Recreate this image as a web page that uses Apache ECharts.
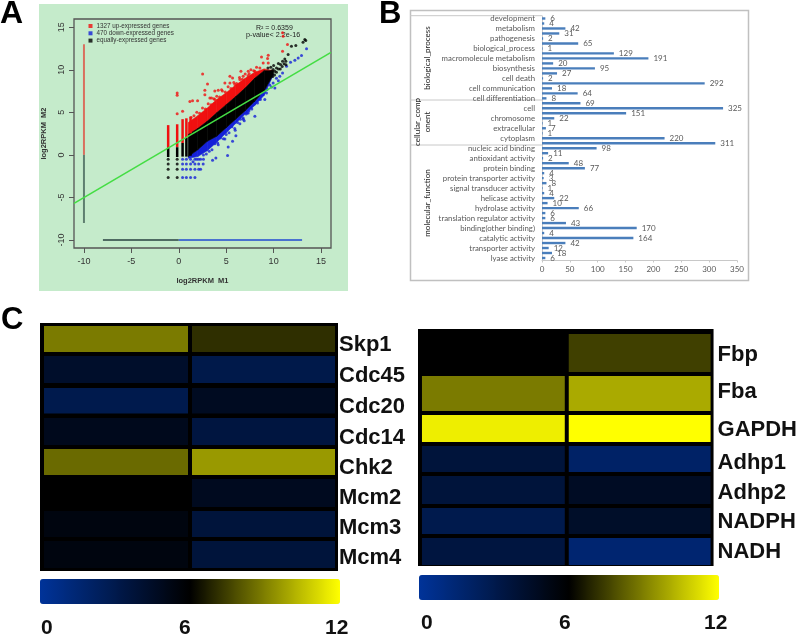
<!DOCTYPE html>
<html><head><meta charset="utf-8">
<script src="https://cdn.jsdelivr.net/npm/echarts@6/dist/echarts.min.js"></script>
<style>html,body{margin:0;padding:0;background:#fff}#c{width:800px;height:635px;filter:blur(.35px)}</style>
</head><body><div id="c"></div>
<script>
// ---------- Panel A: values ----------
const upName = '1327 up-expressed genes', downName = '470 down-expressed genes', eqName = 'equally-expressed genes';
// dense cloud, as envelopes per x: too dense to read individual genes
const cloudX    = [1, 2, 3, 4, 5, 6, 7, 8, 9, 10];
const blueLow   = [-0.4, -0.2, 0.5, 1.5, 2.6, 3.7, 4.8, 5.8, 7.0, 9.5];
const blackLow  = [-0.2, 0.6, 1.6, 2.2, 3.2, 4.2, 5.2, 6.3, 7.5, 9.5];
const blackHigh = [2.4, 3.1, 3.95, 4.95, 5.9, 6.85, 7.85, 9.0, 9.9, 9.9];
const redHigh   = [3.8, 4.6, 5.5, 6.5, 7.3, 8.2, 9.0, 9.7, 10.1, 9.9];
// discrete low-count columns
const stripeX        = [-1.12, -0.17, 0.4, 0.8, 1.24];
const stripeBlackLow = [-0.25, -0.25, -0.2, -0.2, -0.1];
const stripeRedLow   = [0.85, 0.9, 1.4, 2.0, 2.5];
const stripeRedHigh  = [3.5, 3.6, 4.2, 4.3, 4.5];
const redPoints = [[2.51,9.52],[3.03,8.34],[-0.17,7.28],[-0.17,7.0],[1.17,6.29],[1.45,6.37],[1.98,6.37],[2.75,7.59],[2.75,7.08],[0.4,5.12],[-0.17,4.84],[3.28,6.7],[3.8,6.5],
 [4.16,7.59],[4.51,7.67],[4.86,8.45],[5.39,9.24],[5.67,9.04],[5.91,8.26],[6.55,9.83],[7.32,9.83],[7.42,9.55],[6.44,8.85],[8.72,11.51],[9.43,11.71],[9.36,11.32],[8.9,10.81],[9.43,10.81],[8.55,10.22],[8.02,9.83],[10.94,12.18],[11.46,12.97],[11.0,13.95],[10.94,14.34],[5.39,8.45],[3.8,7.5],[3.45,6.69],[6.79,9.24],[7.85,9.24],
 [1.3,4.4],[1.6,4.6],[1.9,5.0],[2.2,4.9],[2.5,5.5],[2.8,5.4],[3.1,6.0],[3.4,5.9],[3.7,6.6],[4.0,6.9],[4.3,6.8],[4.6,7.5],[4.9,7.4],[5.2,8.0],[5.5,7.8],[5.8,8.5],[6.1,8.4],[6.4,9.1],[6.7,8.9],[7.0,9.5],[7.3,9.3],[7.6,10.0],[7.9,9.9],[8.2,10.3]];
const bluePoints = [[13.47,12.46],[12.94,11.67],[12.59,11.4],[12.24,11.12],[11.78,10.89],[11.36,10.42],[10.94,9.63],[10.13,7.87],[9.78,7.98],[9.07,6.5],[8.72,7.08],[8.02,4.53],[7.21,4.93],[6.79,4.34],[9.25,7.28],[9.95,8.46],[10.65,9.24],
 [5.14,-0.06],[5.67,1.59],[5.21,0.92],[3.56,-0.64],[3.91,-0.37],[6.44,3.67],[5.95,2.89],[6.02,2.26],[7.32,4.92],[6.9,4.02],[4.86,1.87],[4.16,1.2],[3.21,0.42],
 [0.4,-2.67],[0.8,-2.67],[1.24,-2.67],[1.7,-2.67],[0.4,-1.69],[0.8,-1.69],[1.24,-1.69],[1.7,-1.69],[2.1,-1.69],[2.3,-1.69],[0.4,-1.06],[0.8,-1.06],[1.24,-1.06],[1.7,-1.06],[2.1,-1.06],[2.57,-1.06],[0.4,-0.5],[0.8,-0.5],[1.24,-0.5],[1.7,-0.5],[2.1,-0.5],[2.6,-0.5],
 [1.5,-0.8],[1.9,-0.5],[2.3,-0.5],[2.6,0],[2.9,0.1],[3.5,0.6],[3.8,1.3],[4.1,1.4],[4.4,2.0],[4.7,1.9],[5.0,2.4],[5.3,2.6],[5.6,3.3],[5.9,3.1],[6.2,3.8],[6.5,4.2],[6.8,4.2],[7.1,4.8],[7.4,5.2],[7.7,5.4],[8.0,6.0],[8.3,6.1],[8.6,6.5],[9.3,7.7],[9.6,8.2],[10.3,9.0],[10.5,8.7]];
const blackPoints = [[13.29,13.55],[13.1,13.24],[13.39,13.44],[11.88,12.77],[12.34,12.85],[11.53,11.79],[11.18,11.28],[10.94,11.0],[10.73,10.61],[11.29,11.0],[10.3,10.22],[10.13,9.83],[9.78,9.83],[9.95,10.03],[10.5,10.73],
 [9.9,9.2],[10.1,9.4],[10.3,9.7],[10.5,10.1],[10.7,10.1],[10.9,10.4],[11.1,10.7],[11.3,10.6],[9.6,9.6],[9.4,10.2],[9.7,10.3],[10.0,10.5],
 [-1.12,-0.5],[-1.12,-1.06],[-1.12,-1.69],[-1.12,-2.67],[-0.17,-0.5],[-0.17,-1.06],[-0.17,-1.69],[-0.17,-2.67]];
const zeroInM1Up = [[-10,13],[-10,0]], zeroInM1Eq = [[-10,0],[-10,-8]];
const zeroInM2Eq = [[-8,-10],[0,-10]], zeroInM2Down = [[0,-10],[13,-10]];
const fitLine = [[-11.05,-5.7],[16.05,12.05]];
const aTicks = [-10,-5,0,5,10,15];

// ---------- Panel B ----------
const goCategories = ['development','','metabolism','','pathogenesis','','biological_process','','macromolecule metabolism','','biosynthesis','','cell death','','cell communication','','cell differentiation','','cell','','chromosome','','extracellular','','cytoplasm','','nucleic acid binding','','antioxidant activity','','protein binding','','protein transporter activity','','signal transducer activity','','helicase activity','','hydrolase activity','','translation regulator activity','','binding(other binding)','','catalytic activity','','transporter activity','','lyase activity'];
const goValues = [6,4,42,31,2,65,1,129,191,20,95,27,2,292,18,64,8,69,325,151,22,1,7,1,220,311,98,11,2,48,77,4,3,8,1,4,22,10,66,6,6,43,170,4,164,42,12,18,6];

// ---------- Panel C ----------
const leftGenes = ['Skp1','Cdc45','Cdc20','Cdc14','Chk2','Mcm2','Mcm3','Mcm4'];
const leftCol1  = [8.9,4.3,3.0,4.9,8.5,6.0,5.4,5.4];
const leftCol2  = [7.1,3.1,4.7,3.5,9.6,4.8,3.7,3.7];
const rightGenes = ['Fbp','Fba','GAPDH','Adhp1','Adhp2','NADPH','NADH'];
const rightCol1  = [6.0,8.9,11.6,3.7,3.7,3.0,3.5];
const rightCol2  = [7.5,10.0,12.0,2.0,4.6,4.4,1.6];

// ---------- layout (not data) ----------
const colSpans = [[4,148],[152,295]];
const leftRowSpans  = [[3,29],[33,60],[65,90.5],[95,122],[126,152],[156,184],[188,214],[218,245]];
const leftLabelY    = [22,53,84,115,145,175,205,235];
const rightRowSpans = [[5,43],[47,82],[86,113],[117,143],[147,175],[179,205],[209,236]];
const rightLabelY   = [26,63,100.5,134,164,193,223];
const heatColors = ['#003399','#000000','#ffff00'];

function heatData(c1, c2){ const d=[]; c1.forEach((v,i)=>d.push([0,i,v])); c2.forEach((v,i)=>d.push([1,i,v])); return d; }
function heatRender(rows){
  return (p,api)=>{
    const a=api.coord([colSpans[api.value(0)][0],rows[api.value(1)][0]]);
    const b=api.coord([colSpans[api.value(0)][1],rows[api.value(1)][1]]);
    return {type:'rect',shape:{x:a[0],y:a[1],width:b[0]-a[0],height:b[1]-a[1]},style:{fill:api.visual('color')}};
  };
}
function bandRender(color){
  return (p,api)=>{
    const pts=[api.coord([api.value(0),api.value(1)]),api.coord([api.value(0),api.value(2)]),api.coord([api.value(3),api.value(5)]),api.coord([api.value(3),api.value(4)])];
    return {type:'polygon',shape:{points:pts},style:{fill:color,stroke:color,lineWidth:.6}};
  };
}
function bandData(xs,lo,hi){ const d=[]; for(let i=0;i<xs.length-1;i++) d.push([xs[i],lo[i],hi[i],xs[i+1],lo[i+1],hi[i+1]]); return d; }
function stripeRender(color){
  return (p,api)=>{
    const a=api.coord([api.value(0),api.value(1)]), b=api.coord([api.value(0),api.value(2)]);
    return {type:'line',shape:{x1:a[0],y1:a[1],x2:b[0],y2:b[1]},style:{stroke:color,lineWidth:2.5}};
  };
}
const RED='#f01010', BLUE='#1420d8', BLK='#000';
const lineS=(data,color,w)=>({type:'line',xAxisIndex:0,yAxisIndex:0,data,showSymbol:false,silent:true,lineStyle:{color,width:w},itemStyle:{color}});
const ptS=(name,data,color)=>({type:'scatter',name,xAxisIndex:0,yAxisIndex:0,data,symbolSize:3,itemStyle:{color},silent:true});
const cusS=(data,fn)=>({type:'custom',xAxisIndex:0,yAxisIndex:0,data,renderItem:fn,silent:true,encode:{x:0,y:1}});
const txt=(text,x,y,o)=>({type:'text',x,y,silent:true,style:Object.assign({text,fill:'#111',font:'8px Liberation Sans',verticalAlign:'middle'},o||{})});
const rotTxt=(text,x,y,font,fill)=>({type:'text',x,y,rotation:Math.PI/2,silent:true,style:{text,fill:fill||'#222',font,align:'center',verticalAlign:'middle'}});
const ln=(x1,y1,x2,y2)=>({type:'line',silent:true,shape:{x1,y1,x2,y2},style:{stroke:'#c8c8c8',lineWidth:1}});

const heatSeriesL={type:'custom',xAxisIndex:2,yAxisIndex:2,data:heatData(leftCol1,leftCol2),renderItem:heatRender(leftRowSpans),silent:true,encode:{x:0,y:1}};
const heatSeriesR={type:'custom',xAxisIndex:3,yAxisIndex:3,data:heatData(rightCol1,rightCol2),renderItem:heatRender(rightRowSpans),silent:true,encode:{x:0,y:1}};

const series=[
  cusS(bandData(cloudX,blueLow,blackLow),bandRender(BLUE)),
  cusS(bandData(cloudX,blackHigh,redHigh),bandRender(RED)),
  cusS(bandData(cloudX,blackLow,blackHigh),bandRender(BLK)),
  cusS(stripeX.map((x,i)=>[x,stripeRedLow[i],stripeRedHigh[i]]),stripeRender(RED)),
  cusS(stripeX.map((x,i)=>[x,stripeBlackLow[i],stripeRedLow[i]]),stripeRender(BLK)),
  ptS(upName,redPoints,RED), ptS(downName,bluePoints,BLUE), ptS(eqName,blackPoints,BLK),
  lineS(zeroInM1Up,'#d9705f',2), lineS(zeroInM1Eq,'#5f7f70',2), lineS(zeroInM2Eq,'#4f6b62',2), lineS(zeroInM2Down,'#4a72d0',2),
  lineS(fitLine,'#44dd44',1.6),
  {type:'bar',xAxisIndex:1,yAxisIndex:1,data:goValues,barWidth:2.4,silent:true,itemStyle:{color:'#4a7ebb'},
   label:{show:true,position:'right',distance:5,color:'#595959',fontFamily:'Lato',fontSize:8}},
];
series.push(heatSeriesL); const iL=series.length-1;
series.push(heatSeriesR); const iR=series.length-1;

const aAxisLabel={color:'#333',fontFamily:'Liberation Sans',fontSize:9};
const chart=echarts.init(document.getElementById('c'),null,{renderer:'canvas'});
chart.setOption({
  animation:false, backgroundColor:'#fff',
  graphic:{elements:[
    {type:'rect',z:-10,silent:true,shape:{x:39,y:4,width:309,height:287},style:{fill:'#c5ebcb'}},
    {type:'rect',z:-10,silent:true,shape:{x:410.5,y:10.5,width:338,height:270},style:{fill:'#fff',stroke:'#c0c0c0',lineWidth:1.5}},
    ln(410,15.7,542,15.7),ln(410,100,542,100),ln(410,145,542,145),
    rotTxt('biological_process',427,58,'8px Lato'),
    rotTxt('cellular_comp',417,122,'8px Lato'),rotTxt('onent',427,122,'8px Lato'),
    rotTxt('molecular_function',427,203,'8px Lato'),
    txt('R\u00b2 = 0.6359',256,28,{font:'7px Liberation Sans',fill:'#222'}),
    txt('p-value< 2.2e-16',246,35,{font:'7.2px Liberation Sans',fill:'#222'}),
    txt('A',0,14,{font:'bold 32px Liberation Sans',fill:'#000'}),
    txt('B',379,14,{font:'bold 31px Liberation Sans',fill:'#000'}),
    txt('C',1,320,{font:'bold 31px Liberation Sans',fill:'#000'}),
    txt('0',41,628,{font:'bold 21px Liberation Sans'}),txt('6',179,628,{font:'bold 21px Liberation Sans'}),txt('12',325,628,{font:'bold 21px Liberation Sans'}),
    txt('0',421,623,{font:'bold 21px Liberation Sans'}),txt('6',559,623,{font:'bold 21px Liberation Sans'}),txt('12',704,623,{font:'bold 21px Liberation Sans'}),
  ]},
  legend:{data:[upName,downName,eqName],orient:'vertical',left:88.5,top:22.5,padding:0,itemWidth:4,itemHeight:4,itemGap:0.3,icon:'rect',selectedMode:false,
    textStyle:{fontFamily:'Liberation Sans',fontSize:6.3,lineHeight:7,color:'#333',padding:[0,0,0,-1]}},
  visualMap:[
    {type:'continuous',min:0,max:12,seriesIndex:iL,dimension:2,orient:'horizontal',left:40,top:579,itemWidth:25,itemHeight:300,padding:0,calculable:false,hoverLink:false,borderRadius:0,inRange:{color:heatColors},text:null},
    {type:'continuous',min:0,max:12,seriesIndex:iR,dimension:2,orient:'horizontal',left:419,top:575,itemWidth:25,itemHeight:300,padding:0,calculable:false,hoverLink:false,borderRadius:0,inRange:{color:heatColors},text:null},
  ],
  grid:[
    {left:74,top:19,width:257,height:229,show:true,borderColor:'#555',borderWidth:1.3,backgroundColor:'transparent'},
    {left:542,top:16,width:195,height:244.5},
    {left:40,top:323,width:298,height:248,show:true,backgroundColor:'#000',borderWidth:0},
    {left:418,top:329,width:298,height:237,show:true,backgroundColor:'#000',borderWidth:0},
  ],
  xAxis:[
    {type:'value',gridIndex:0,min:-11.05,max:16.05,splitLine:{show:false},axisLine:{show:false,onZero:false},
     axisTick:{show:true,length:5,customValues:aTicks,lineStyle:{color:'#555'}},axisLabel:Object.assign({customValues:aTicks,margin:9},aAxisLabel),
     name:'log2RPKM  M1',nameLocation:'middle',nameGap:29,nameTextStyle:{fontFamily:'Liberation Sans',fontWeight:'bold',fontSize:7.5,color:'#333'}},
    {type:'value',gridIndex:1,min:0,max:350,interval:50,splitLine:{show:false},axisLine:{show:true,onZero:false,lineStyle:{color:'#c8c8c8'}},axisTick:{show:true,length:2,lineStyle:{color:'#c8c8c8'}},axisLabel:{color:'#595959',fontFamily:'Lato',fontSize:8,margin:5}},
    {type:'value',gridIndex:2,min:0,max:298,show:false},
    {type:'value',gridIndex:3,min:0,max:298,show:false},
  ],
  yAxis:[
    {type:'value',gridIndex:0,min:-10.94,max:15.97,splitLine:{show:false},axisLine:{show:false,onZero:false},
     axisTick:{show:true,length:5,customValues:aTicks,lineStyle:{color:'#555'}},axisLabel:Object.assign({customValues:aTicks,rotate:90,margin:8},aAxisLabel),
     name:'log2RPKM  M2',nameLocation:'middle',nameGap:26,nameTextStyle:{fontFamily:'Liberation Sans',fontWeight:'bold',fontSize:7.5,color:'#333'}},
    {type:'category',gridIndex:1,inverse:true,data:goCategories,axisLine:{show:true,onZero:false,lineStyle:{color:'#c8c8c8'}},axisTick:{show:false},
     axisLabel:{interval:0,color:'#595959',fontFamily:'Lato',fontSize:7.8,margin:7,hideOverlap:false}},
    {type:'value',gridIndex:2,min:0,max:248,inverse:true,position:'right',splitLine:{show:false},axisLine:{show:false,onZero:false},axisTick:{show:false},
     axisLabel:{customValues:leftLabelY,formatter:v=>leftGenes[leftLabelY.indexOf(v)],color:'#111',fontFamily:'Liberation Sans',fontWeight:'bold',fontSize:22,margin:1}},
    {type:'value',gridIndex:3,min:0,max:237,inverse:true,position:'right',splitLine:{show:false},axisLine:{show:false,onZero:false},axisTick:{show:false},
     axisLabel:{customValues:rightLabelY,formatter:v=>rightGenes[rightLabelY.indexOf(v)],color:'#111',fontFamily:'Liberation Sans',fontWeight:'bold',fontSize:22,margin:4}},
  ],
  series
});
</script></body></html>
